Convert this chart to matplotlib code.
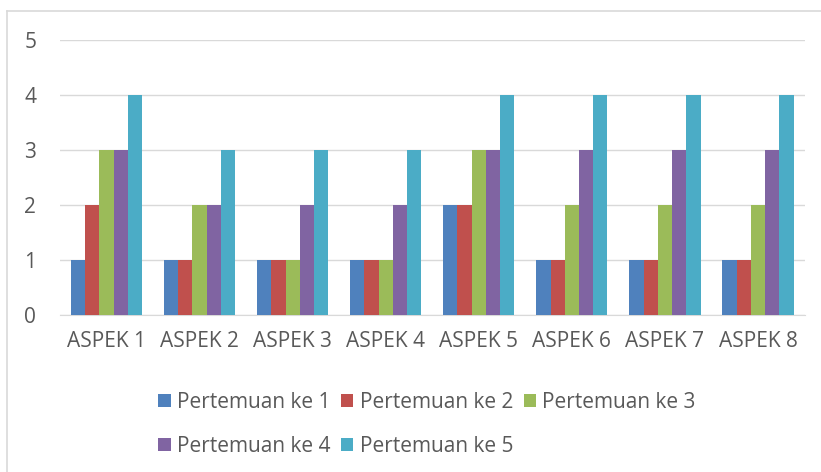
import matplotlib
matplotlib.use("Agg")
import matplotlib.pyplot as plt
from matplotlib.lines import Line2D
import numpy as np

categories = ["ASPEK 1", "ASPEK 2", "ASPEK 3", "ASPEK 4", "ASPEK 5", "ASPEK 6", "ASPEK 7", "ASPEK 8"]
series_names = ["Pertemuan ke 1", "Pertemuan ke 2", "Pertemuan ke 3", "Pertemuan ke 4", "Pertemuan ke 5"]
p1 = [1, 1, 1, 1, 2, 1, 1, 1]
p2 = [2, 1, 1, 1, 2, 1, 1, 1]
p3 = [3, 2, 1, 1, 3, 2, 2, 2]
p4 = [3, 2, 2, 2, 3, 3, 3, 3]
p5 = [4, 3, 3, 3, 4, 4, 4, 4]
series = [p1, p2, p3, p4, p5]
colors = ["#4F81BD", "#C0504D", "#9BBB59", "#8064A2", "#4BACC6"]

plt.rcParams['font.family'] = ['Open Sans', 'DejaVu Sans']

fig = plt.figure(figsize=(8.21, 4.72), dpi=100)
ax = fig.add_axes([0.073, 0.333, 0.907, 0.582])

x = np.arange(len(categories))
w = 0.153
handles = []
for i, (vals, c, n) in enumerate(zip(series, colors, series_names)):
    h = ax.bar(x + (i - 2) * w, vals, w, color=c, label=n, zorder=3)
    handles.append(h)

ax.set_xlim(-0.5, len(categories) - 0.5)
ax.set_ylim(0, 5)
ax.set_yticks(range(0, 6))
ax.set_xticks(x)
ax.set_xticklabels(categories)
ax.grid(axis='y', color='#D9D9D9', linewidth=1, zorder=0)
for s in ['top', 'right', 'left']:
    ax.spines[s].set_visible(False)
ax.spines['bottom'].set_color('#D9D9D9')
ax.tick_params(axis='both', length=0, labelsize=15, colors='#595959')
ax.tick_params(axis='x', pad=12)
ax.tick_params(axis='y', pad=17)

order = [0, 3, 1, 4, 2]
fig.legend([handles[i] for i in order], [series_names[i] for i in order],
           ncol=3, loc='upper left', bbox_to_anchor=(0.175, 0.2),
           frameon=False, fontsize=15, handlelength=0.6, handleheight=0.6,
           handletextpad=0.3, columnspacing=0.5, labelspacing=1.1,
           labelcolor='#595959', borderpad=0.2)

top = 1 - 11 / 472
left = 6.5 / 821
fig.lines.append(Line2D([left, 1.0], [top, top], transform=fig.transFigure, color='#D9D9D9', linewidth=1.2))
fig.lines.append(Line2D([left, left], [0.0, top], transform=fig.transFigure, color='#D9D9D9', linewidth=1.2))
fig.savefig("out.png", dpi=100)
